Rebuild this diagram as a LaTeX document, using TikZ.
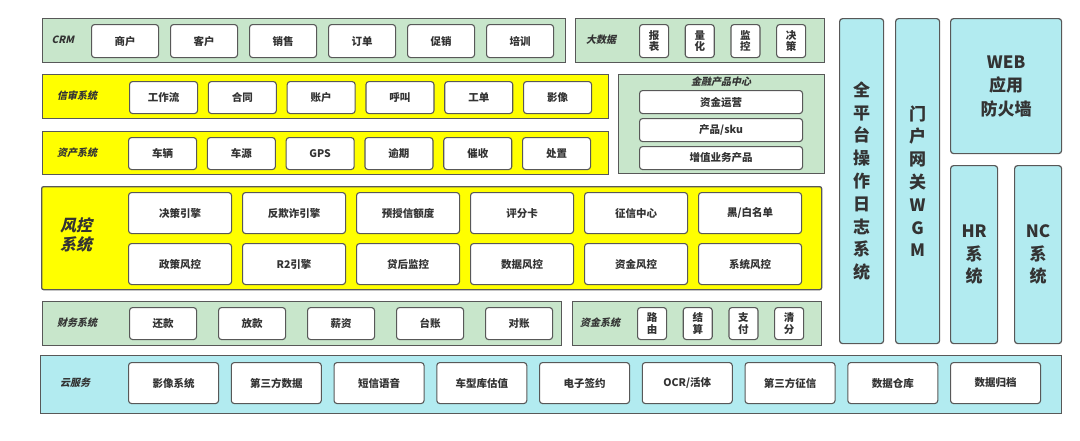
\documentclass[tikz,border=0pt]{standalone}
\usepackage{fontspec}
\setmainfont{Noto Sans CJK SC}
\newfontfamily\slantcjk{Noto Sans CJK SC}[FakeSlant=0.22]
\usepackage{tikz}
\usetikzlibrary{positioning}
\definecolor{panelgreen}{HTML}{C8E6CB}
\definecolor{panelyellow}{HTML}{FFFF00}
\definecolor{panelcyan}{HTML}{B2EBF0}
\definecolor{edgegray}{HTML}{585858}
\definecolor{txtgray}{HTML}{333333}

\begin{document}
\begin{tikzpicture}[
  x=1pt, y=-1pt,
  panel/.style={draw=edgegray, line width=1.3pt, anchor=north west, inner sep=0pt},
  itembox/.style={draw=edgegray, fill=white, rounded corners=3pt, line width=1.1pt, anchor=north west,
    inner sep=0pt, align=center, text=txtgray, font=\fontsize{10.5}{11.5}\selectfont\bfseries},
  sidebox/.style={draw=edgegray, fill=panelcyan, rounded corners=3pt, line width=1.2pt, anchor=north west,
    inner sep=0pt, align=center, text=txtgray, font=\fontsize{17}{22.8}\selectfont\bfseries},
  lbl/.style={text=txtgray, align=center, font=\slantcjk\fontsize{10}{12}\selectfont\bfseries}
]
\path[use as bounding box] (0,0) rectangle (1080,440);

% 左侧各层
\node[panel, fill=panelgreen, minimum width=523pt, minimum height=44pt] (crm) at (42,18) {};
\node[lbl] (crmlbl) at (63,40) {CRM};
\foreach \t [count=\i from 0] in {商户,客户,销售,订单,促销,培训}
  \node[itembox, minimum width=67pt, minimum height=33pt] (crm\i) at ({91+79*\i},24) {\t};

\node[panel, fill=panelgreen, minimum width=249pt, minimum height=44pt] (bigdata) at (575,18) {};
\node[lbl] (bigdatalbl) at (601,40) {大数据};
\foreach \t [count=\i from 0] in {报\\表,量\\化,监\\控,决\\策}
  \node[itembox, minimum width=29pt, minimum height=33pt] (bd\i) at ({639+45.7*\i},24) {\t};

\node[panel, fill=panelyellow, minimum width=566pt, minimum height=44pt] (xinshen) at (42,74) {};
\node[lbl] (xinshenlbl) at (77,96) {信审系统};
\foreach \t [count=\i from 0] in {工作流,合同,账户,呼叫,工单,影像}
  \node[itembox, minimum width=68pt, minimum height=32pt] (xs\i) at ({129+78.8*\i},81) {\t};

\node[panel, fill=panelyellow, minimum width=566pt, minimum height=43pt] (zichan) at (42,131) {};
\node[lbl] (zichanlbl) at (77,153) {资产系统};
\foreach \t [count=\i from 0] in {车辆,车源,GPS,逾期,催收,处置}
  \node[itembox, minimum width=68pt, minimum height=32pt] (zc\i) at ({128+78.8*\i},137) {\t};

\node[panel, fill=panelgreen, minimum width=206pt, minimum height=99pt] (jinrong) at (618,74) {};
\node[lbl] (jinronglbl) at (721,82) {金融产品中心};
\foreach \t/\y [count=\i from 0] in {{资金运营}/90,{产品/sku}/118,{增值业务产品}/146}
  \node[itembox, minimum width=163pt, minimum height=23pt] (jr\i) at (639,\y) {\t};

\node[panel, fill=panelyellow, rounded corners=2pt, minimum width=780pt, minimum height=103pt] (fengkong) at (41,186) {};
\node[lbl, font=\slantcjk\fontsize{16}{19}\selectfont\bfseries] (fengkonglbl) at (76,235) {风控\\系统};
\foreach \t [count=\i from 0] in {决策引擎,反欺诈引擎,预授信额度,评分卡,征信中心,黑/白名单}
  \node[itembox, minimum width=103pt, minimum height=41pt] (fka\i) at ({128+114*\i},192) {\t};
\foreach \t [count=\i from 0] in {政策风控,R2引擎,贷后监控,数据风控,资金风控,系统风控}
  \node[itembox, minimum width=103pt, minimum height=41pt] (fkb\i) at ({128+114*\i},243) {\t};

\node[panel, fill=panelgreen, minimum width=519pt, minimum height=44pt] (caiwu) at (42,301) {};
\node[lbl] (caiwulbl) at (77,323) {财务系统};
\foreach \t [count=\i from 0] in {还款,放款,薪资,台账,对账}
  \node[itembox, minimum width=67pt, minimum height=32pt] (cw\i) at ({129+89*\i},307) {\t};

\node[panel, fill=panelgreen, minimum width=249pt, minimum height=44pt] (zijin) at (572,301) {};
\node[lbl] (zijinlbl) at (600,323) {资金系统};
\foreach \t [count=\i from 0] in {路\\由,结\\算,支\\付,清\\分}
  \node[itembox, minimum width=29pt, minimum height=32pt] (zj\i) at ({637+45.7*\i},307) {\t};

% 右侧竖列
\node[sidebox, minimum width=44pt, minimum height=325pt] (oplog) at (839,18) {全\\平\\台\\操\\作\\日\\志\\系\\统};
\node[sidebox, minimum width=44pt, minimum height=325pt] (wgm) at (895,18) {门\\户\\网\\关\\W\\G\\M};
\node[sidebox, minimum width=111pt, minimum height=135pt, font=\fontsize{17}{23.5}\selectfont\bfseries] (waf) at (950,18) {WEB\\应用\\防火墙};
\node[sidebox, minimum width=47pt, minimum height=178pt] (hr) at (950,165) {HR\\系\\统};
\node[sidebox, minimum width=47pt, minimum height=178pt] (nc) at (1014,165) {NC\\系\\统};

% 云服务
\node[panel, fill=panelcyan, minimum width=1021pt, minimum height=58pt] (cloud) at (40,355) {};
\node[lbl] (cloudlbl) at (75,383) {云服务};
\foreach \t [count=\i from 0] in {影像系统,第三方数据,短信语音,车型库估值,电子签约,OCR/活体,第三方征信,数据仓库,数据归档}
  \node[itembox, minimum width=90pt, minimum height=41pt] (cs\i) at ({128+102.75*\i},362) {\t};
\end{tikzpicture}
\end{document}
